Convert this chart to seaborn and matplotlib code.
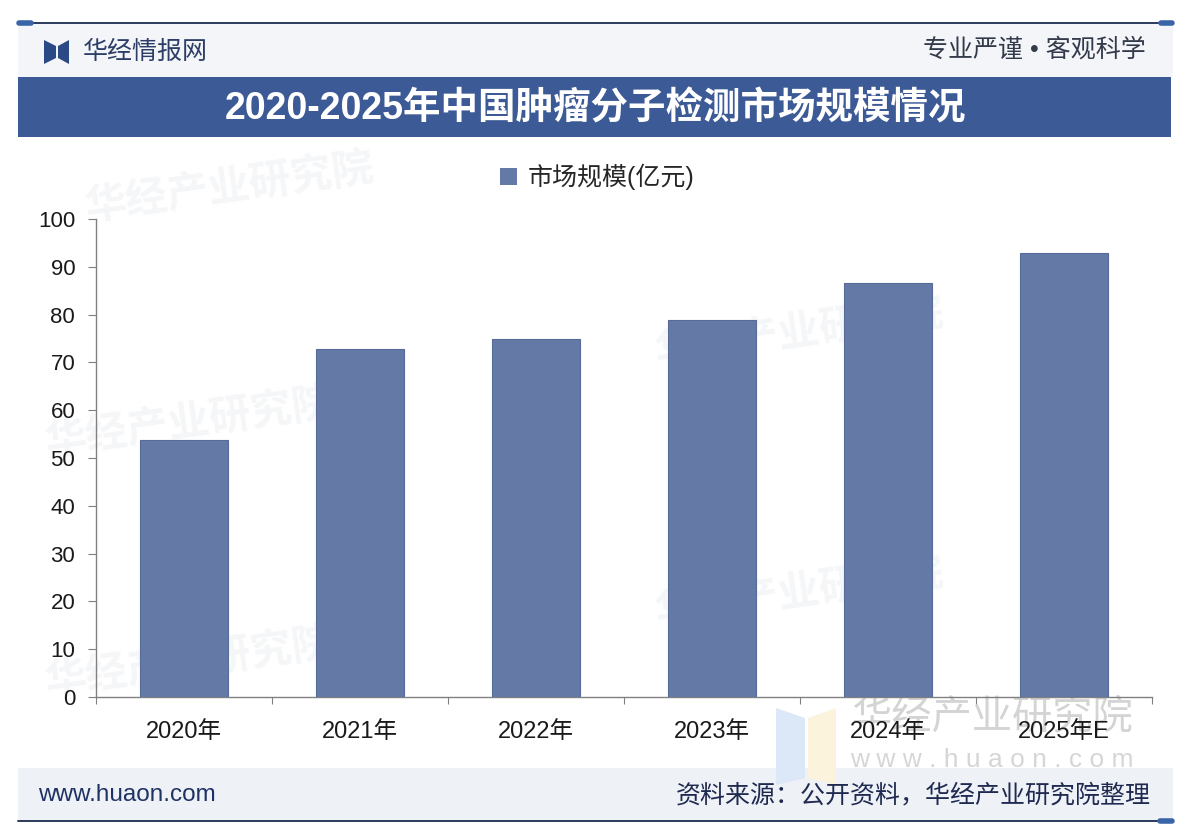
import numpy as np
import seaborn as sns
import matplotlib.pyplot as plt
from matplotlib.patches import Rectangle, Polygon, Patch
from matplotlib.lines import Line2D

# data
years = ['2020年', '2021年', '2022年', '2023年', '2024年', '2025年E']
market_size = [53.7, 72.9, 74.8, 78.8, 86.7, 92.8]
y_ticks = [0, 10, 20, 30, 40, 50, 60, 70, 80, 90, 100]

title = '2020-2025年中国肿瘤分子检测市场规模情况'
series_name = '市场规模(亿元)'
brand = '华经情报网'
slogan = '专业严谨 • 客观科学'
site = 'www.huaon.com'
source = '资料来源：公开资料，华经产业研究院整理'

bar_color = '#6479a5'
navy = '#3c5a96'

sns.set_style('white')
plt.rcParams['font.family'] = ['Liberation Sans', 'Noto Sans CJK SC', 'DejaVu Sans']

W, H = 1200, 839
fig = plt.figure(figsize=(W / 100, H / 100), dpi=100, facecolor='white')


def fx(px):
    return px / W


def fy(py):
    return 1 - py / H


# header / footer bands
fig.patches.append(Rectangle((fx(18), fy(77)), fx(1155), 54 / H, transform=fig.transFigure,
                             facecolor='#f3f5f9', edgecolor='none', zorder=0))
fig.patches.append(Rectangle((fx(18), fy(821)), fx(1155), 53 / H, transform=fig.transFigure,
                             facecolor='#eef1f6', edgecolor='none', zorder=0))
# title banner
fig.patches.append(Rectangle((fx(18), fy(137)), fx(1153), 60 / H, transform=fig.transFigure,
                             facecolor=navy, edgecolor='none', zorder=1))

# top and bottom rules with small caps
for yy in (23, 821):
    fig.lines.append(Line2D([fx(18), fx(1173)], [fy(yy), fy(yy)], transform=fig.transFigure,
                            color='#2b3a5c', lw=1.4, zorder=2))
fig.lines.append(Line2D([fx(19), fx(31)], [fy(23), fy(23)], transform=fig.transFigure,
                        color='#3a64a8', lw=4, solid_capstyle='round', zorder=3))
fig.lines.append(Line2D([fx(1160), fx(1172)], [fy(821), fy(821)], transform=fig.transFigure,
                        color='#3a64a8', lw=4, solid_capstyle='round', zorder=3))
fig.lines.append(Line2D([fx(1161), fx(1172)], [fy(23), fy(23)], transform=fig.transFigure,
                        color='#3a64a8', lw=4, solid_capstyle='round', zorder=3))

# logo
logo_l = [(44, 40), (56, 46), (56, 58), (44, 64)]
logo_r = [(58, 46), (69, 40), (69, 64), (58, 58)]
for pts in (logo_l, logo_r):
    fig.patches.append(Polygon([(fx(a), fy(b)) for a, b in pts], closed=True,
                               transform=fig.transFigure, facecolor='#2b4a85', edgecolor='none', zorder=3))

fig.text(fx(83), fy(52), brand, fontsize=18, color='#2c3e66', va='center', ha='left')
fig.text(fx(1146), fy(50), slogan, fontsize=18, color='#333a4a', va='center', ha='right')
fig.text(fx(595), fy(109), title, fontsize=27, color='white', fontweight='bold',
         va='center', ha='center', zorder=4)
fig.text(fx(38), fy(795), site, fontsize=17.5, color='#1f3264', va='center', ha='left')
fig.text(fx(1151), fy(795), source, fontsize=18, color='#1f2a50', va='center', ha='right')

# faint watermarks, kept behind the chart
for (wx, wy) in [(230, 190), (190, 425), (800, 335), (800, 595), (190, 665)]:
    fig.text(fx(wx), fy(wy), '华经产业研究院', fontsize=30, color='#f5f6f8', rotation=8,
             ha='center', va='center', fontweight='bold', zorder=0)
fig.patches.append(Polygon([(fx(a), fy(b)) for a, b in [(776, 708), (805, 718), (805, 778), (776, 785)]],
                           transform=fig.transFigure, facecolor='#dce7f7', edgecolor='none', zorder=0))
fig.patches.append(Polygon([(fx(a), fy(b)) for a, b in [(808, 718), (836, 708), (836, 785), (808, 778)]],
                           transform=fig.transFigure, facecolor='#fbf3dc', edgecolor='none', zorder=0))
fig.text(fx(992), fy(718), '华经产业研究院', fontsize=29, color='#d4d4d4', ha='center', va='center', zorder=0)
fig.text(fx(992), fy(760), 'w w w . h u a o n . c o m', fontsize=19, color='#d6d6d6',
         ha='center', va='center', zorder=0)

# chart
ax = fig.add_axes([fx(96), fy(697), fx(1152) - fx(96), (697 - 219) / H])
ax.set_zorder(5)
ax.patch.set_alpha(0)
sns.barplot(x=years, y=market_size, color=bar_color, width=0.5, saturation=1,
            edgecolor='#566b96', linewidth=0.8, ax=ax, zorder=3)

ax.set_ylim(0, 100)
ax.set_xlim(-0.5, len(years) - 0.5)
ax.set_yticks(y_ticks)
ax.set_xticks(np.arange(-0.5, len(years), 1))
ax.set_xticklabels([])
ax.set_xticks(range(len(years)), minor=True)
ax.set_xticklabels(years, minor=True)
ax.tick_params(axis='x', which='major', length=5, color='#808080', direction='out', bottom=True)
ax.tick_params(axis='x', which='minor', length=0, pad=17, labelsize=17, labelcolor='#1a1a1a')
ax.tick_params(axis='y', length=6, color='#808080', direction='out', left=True, pad=9,
               labelsize=16, labelcolor='#1a1a1a')
ax.set_xlabel('')
ax.set_ylabel('')
for side in ('top', 'right'):
    ax.spines[side].set_visible(False)
for side in ('left', 'bottom'):
    ax.spines[side].set_color('#808080')
    ax.spines[side].set_linewidth(1)

handle = Patch(facecolor=bar_color, edgecolor='none', label=series_name)
fig.legend(handles=[handle], loc='center', bbox_to_anchor=(fx(597), fy(177)), frameon=False,
           fontsize=18, handlelength=0.7, handleheight=0.7, handletextpad=0.4)

fig.savefig('out.png', dpi=100, facecolor='white')
